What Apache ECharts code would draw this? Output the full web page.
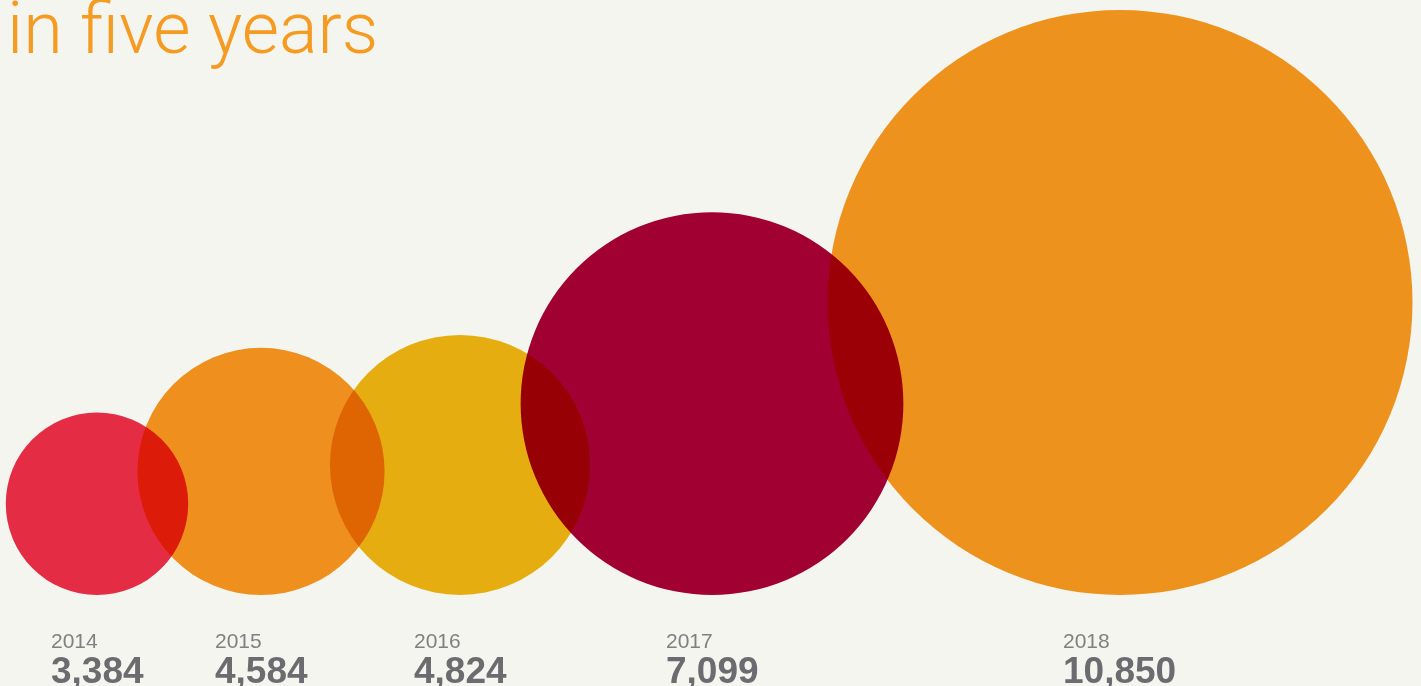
<!DOCTYPE html>
<html>
<head>
<meta charset="utf-8">
<script src="https://cdn.jsdelivr.net/npm/echarts@6/dist/echarts.min.js"></script>
<style>
html,body{margin:0;padding:0;background:#f5f5f0;}
#chart{width:1421px;height:686px;}
</style>
</head>
<body>
<div id="chart"></div>
<script>
// Data
const years = ['2014', '2015', '2016', '2017', '2018'];
const values = [3384, 4584, 4824, 7099, 10850];
// horizontal placement of each circle's centre (x-axis units)
const xCenter = [97, 261, 460, 712, 1120];
// fills are multiplied with the page background (and with each other where they overlap)
const colors = ['#ee2f49', '#f89520', '#efb411', '#a80036', '#f89820'];

const chart = echarts.init(document.getElementById('chart'), null, {renderer: 'canvas'});

const seriesData = values.map((v, i) => [xCenter[i], v, years[i]]);

chart.setOption({
  backgroundColor: '#f5f5f0',
  animation: false,
  title: {
    text: 'in five years',
    left: 2,
    top: -6,
    textStyle: {
      color: '#f59b22',
      fontFamily: 'Roboto',
      fontWeight: 300,
      fontSize: 72
    }
  },
  grid: {left: 0, right: 0, top: 10, bottom: 91},
  xAxis: {type: 'value', min: 0, max: 1421, show: false},
  yAxis: {type: 'value', min: 0, max: 10850, show: false},
  series: [{
    type: 'custom',
    blendMode: 'multiply',
    clip: false,
    data: seriesData,
    renderItem: function (params, api) {
      const i = params.dataIndex;
      const base = api.coord([api.value(0), 0]);
      const d = api.size([0, api.value(1)])[1];
      const r = d / 2;
      return {
        type: 'circle',
        shape: {cx: base[0], cy: base[1] - r, r: r},
        style: {fill: colors[i]}
      };
    }
  }, {
    type: 'custom',
    clip: false,
    data: seriesData,
    renderItem: function (params, api) {
      const i = params.dataIndex;
      const base = api.coord([api.value(0), 0]);
      const lx = base[0] - (i === 4 ? 57 : 46);
      return {
        type: 'group',
        children: [{
          type: 'text',
          style: {
            x: lx, y: base[1] + 58,
            text: years[i],
            fill: '#808080',
            font: '300 21px "Liberation Sans", Arial, sans-serif',
            textVerticalAlign: 'bottom'
          }
        }, {
          type: 'text',
          style: {
            x: lx, y: base[1] + 96,
            text: values[i].toLocaleString('en-US'),
            fill: '#6b6b70',
            font: 'bold 37px "Liberation Sans", Arial, sans-serif',
            textVerticalAlign: 'bottom'
          }
        }]
      };
    }
  }]
});
</script>
</body>
</html>
